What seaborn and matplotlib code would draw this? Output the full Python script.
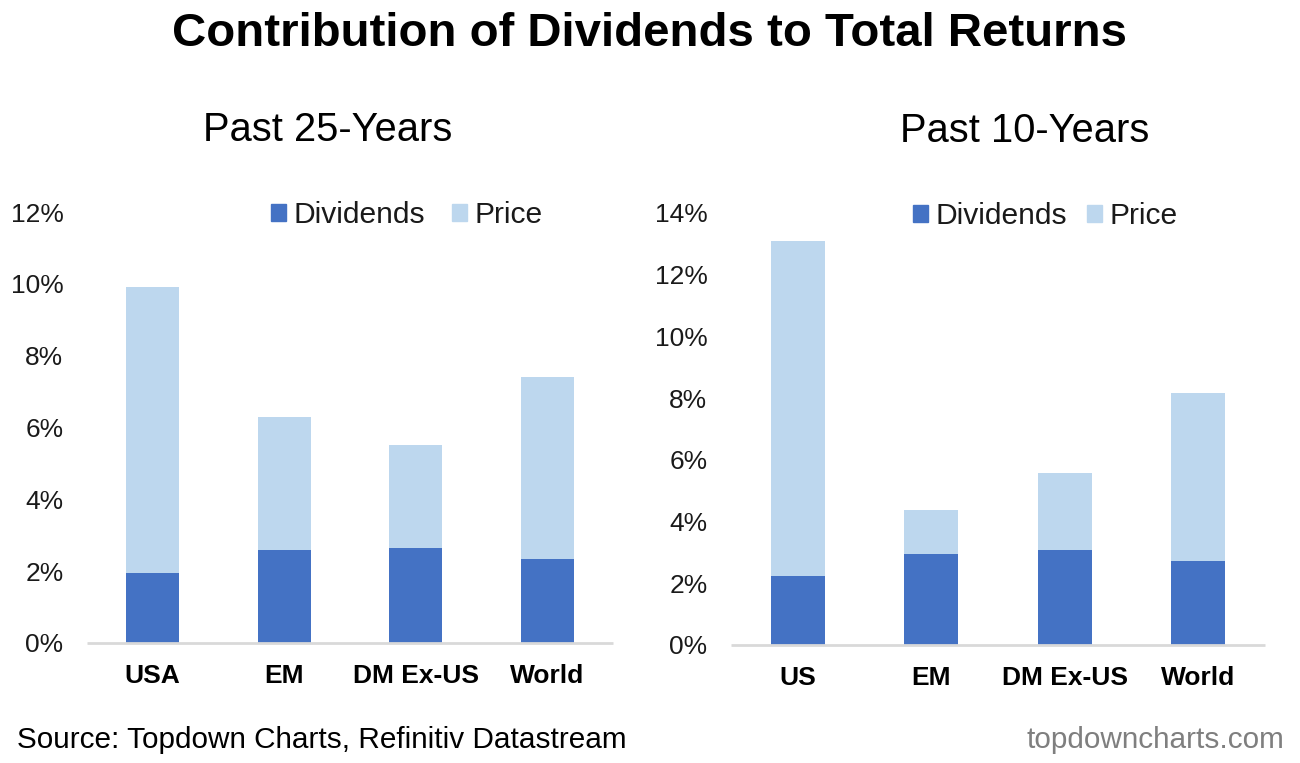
import pandas as pd
import matplotlib
matplotlib.use("Agg")
import matplotlib.pyplot as plt
import seaborn as sns
from matplotlib.patches import Patch

# values (stack tops are dividends + price)
regions_25 = ["USA", "EM", "DM Ex-US", "World"]
dividends_25 = [1.95, 2.6, 2.65, 2.35]
price_25 = [7.95, 3.7, 2.85, 5.05]
ticks_25 = [0, 2, 4, 6, 8, 10, 12]

regions_10 = ["US", "EM", "DM Ex-US", "World"]
dividends_10 = [2.25, 2.95, 3.07, 2.72]
price_10 = [10.83, 1.42, 2.5, 5.45]
ticks_10 = [0, 2, 4, 6, 8, 10, 12, 14]

DIV_COL = "#4472C4"
PRICE_COL = "#BDD7EE"
AXIS_COL = "#D9D9D9"

sns.set_theme(style="white")
plt.rcParams["font.family"] = ["Liberation Sans", "DejaVu Sans"]

W, H = 1300, 763
fig = plt.figure(figsize=(W / 100, H / 100), dpi=100, facecolor="white")


def stacked_panel(rect, regions, dividends, price, ticks, ymax, legend_x, col_gap):
    ax = fig.add_axes([rect[0] / W, 1 - rect[3] / H, (rect[2] - rect[0]) / W, (rect[3] - rect[1]) / H])
    df = pd.DataFrame({"region": regions, "dividends": dividends, "price": price})
    df["total"] = df["dividends"] + df["price"]
    # draw the total first, dividends on top of it, gives the stack
    sns.barplot(data=df, x="region", y="total", color=PRICE_COL, width=0.405, saturation=1, linewidth=0, ax=ax)
    sns.barplot(data=df, x="region", y="dividends", color=DIV_COL, width=0.405, saturation=1, linewidth=0, ax=ax)
    ax.set_xlim(-0.5, 3.5)
    ax.set_ylim(0, ymax)
    ax.set_yticks(ticks)
    ax.set_yticklabels([f"{t}%" for t in ticks], fontsize=19, color="#1a1a1a")
    ax.set_xlabel("")
    ax.set_ylabel("")
    ax.tick_params(axis="x", length=0, pad=15)
    ax.tick_params(axis="y", length=0, pad=17)
    for lab in ax.get_xticklabels():
        lab.set_fontsize(19)
        lab.set_fontweight("bold")
        lab.set_color("black")
    for side in ["top", "right", "left"]:
        ax.spines[side].set_visible(False)
    ax.spines["bottom"].set_color(AXIS_COL)
    ax.spines["bottom"].set_linewidth(2)
    ax.spines["bottom"].set_capstyle("butt")
    ax.legend(
        handles=[Patch(color=DIV_COL, label="Dividends"), Patch(color=PRICE_COL, label="Price")],
        ncol=2, frameon=False, fontsize=21.6, loc="upper center", bbox_to_anchor=(legend_x, 1.088),
        handlelength=0.5, handleheight=0.5, handletextpad=0.25, columnspacing=col_gap, labelcolor="#1a1a1a",
    )
    return ax


stacked_panel((87, 212, 613, 643), regions_25, dividends_25, price_25, ticks_25, 12, 0.608, 0.87)
stacked_panel((731, 213, 1265, 645), regions_10, dividends_10, price_10, ticks_10, 14, 0.588, 0.67)

fig.text(650 / W, 1 - 34 / H, "Contribution of Dividends to Total Returns", fontsize=34.1,
         fontweight="bold", ha="center", va="center", color="black")
fig.text(327.5 / W, 1 - 130 / H, "Past 25-Years", fontsize=28.7, ha="center", va="center", color="black")
fig.text(1025 / W, 1 - 131 / H, "Past 10-Years", fontsize=28.7, ha="center", va="center", color="black")
fig.text(17 / W, 1 - 740 / H, "Source: Topdown Charts, Refinitiv Datastream", fontsize=21.45,
         ha="left", va="center", color="black")
fig.text(1284 / W, 1 - 740 / H, "topdowncharts.com", fontsize=21.45, ha="right", va="center", color="#7F7F7F")

fig.savefig("out.png", dpi=100)
